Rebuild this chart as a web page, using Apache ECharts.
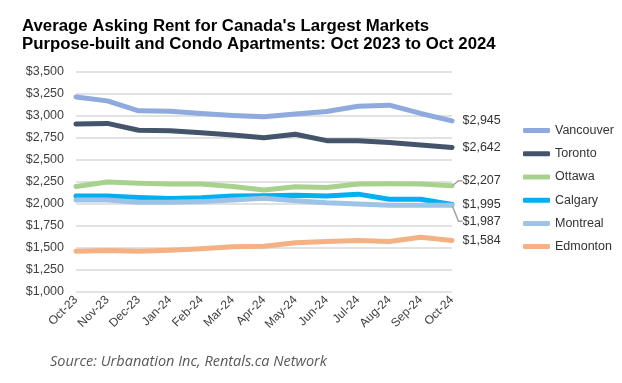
<!DOCTYPE html>
<html>
<head>
<meta charset="utf-8">
<script src="https://cdn.jsdelivr.net/npm/echarts@6/dist/echarts.min.js"></script>
<style>
  html, body { margin: 0; padding: 0; background: #ffffff; }
  #chart { width: 622px; height: 383px; }
</style>
</head>
<body>
<div id="chart"></div>
<script>
const categories = ['Oct-23','Nov-23','Dec-23','Jan-24','Feb-24','Mar-24','Apr-24','May-24','Jun-24','Jul-24','Aug-24','Sep-24','Oct-24'];
const vancouver = [3215, 3172, 3059, 3055, 3029, 3007, 2991, 3022, 3052, 3110, 3123, 3029, 2945];
const toronto   = [2908, 2916, 2838, 2833, 2810, 2784, 2752, 2792, 2720, 2720, 2700, 2671, 2642];
const ottawa    = [2199, 2250, 2236, 2226, 2226, 2199, 2160, 2195, 2188, 2228, 2230, 2226, 2207];
const calgary   = [2092, 2092, 2075, 2063, 2072, 2090, 2095, 2100, 2090, 2112, 2055, 2055, 1995];
const montreal  = [2045, 2045, 2020, 2020, 2027, 2045, 2065, 2038, 2015, 2000, 1987, 1987, 1987];
const edmonton  = [1464, 1472, 1464, 1475, 1491, 1513, 1520, 1559, 1573, 1585, 1573, 1622, 1584];
const seriesNames = ['Vancouver','Toronto','Ottawa','Calgary','Montreal','Edmonton'];
const seriesValues = [vancouver, toronto, ottawa, calgary, montreal, edmonton];
const yMin = 1000, yMax = 3500, yStep = 250;

const colors = ['#8FAADC', '#44546A', '#A9D18E', '#00B0F0', '#9DC3E6', '#F4B183'];
const labelShift = [0, 0, -5, 0, 16, 0];
const FONT = '"Liberation Sans", Arial, sans-serif';
const fmt = v => '$' + v.toLocaleString('en-US');

const chart = echarts.init(document.getElementById('chart'), null, { renderer: 'canvas' });

const series = seriesNames.map((name, si) => {
  const vals = seriesValues[si];
  return {
    name: name,
    type: 'line',
    z: 2 + si,
    showSymbol: true,
    symbol: 'circle',
    symbolSize: 1,
    itemStyle: { color: colors[si] },
    lineStyle: { color: colors[si], width: 5, cap: 'round', join: 'round' },
    emphasis: { disabled: true },
    data: vals.map((v, i) => i === vals.length - 1 ? {
      value: v,
      label: {
        show: true,
        position: 'right',
        distance: 10,
        formatter: p => fmt(p.value),
        fontFamily: FONT,
        fontSize: 12.5,
        color: '#333333'
      },
      labelLine: { show: labelShift[si] !== 0, lineStyle: { color: '#A6A6A6', width: 1.5 } }
    } : v),
    labelLayout: labelShift[si] !== 0 ? { dy: labelShift[si] } : null,
    labelLine: { show: labelShift[si] !== 0, length2: 4, lineStyle: { color: '#A6A6A6', width: 1.5 } }
  };
});

chart.setOption({
  animation: false,
  backgroundColor: '#ffffff',
  color: colors,
  title: [{
    text: "Average Asking Rent for Canada's Largest Markets\nPurpose-built and Condo Apartments: Oct 2023 to Oct 2024",
    left: 22,
    top: 17,
    padding: 0,
    textStyle: { fontFamily: FONT, fontWeight: 'bold', fontSize: 16.8, lineHeight: 18.5, color: '#000000' }
  }, {
    text: 'Source: Urbanation Inc, Rentals.ca Network',
    left: 50,
    top: 354.5,
    padding: 0,
    textStyle: { fontFamily: '"Open Sans", Lato, sans-serif', fontStyle: 'italic', fontWeight: 'normal', fontSize: 14.5, color: '#595959' }
  }],
  legend: {
    orient: 'vertical',
    left: 523,
    top: 119,
    padding: 0,
    itemWidth: 27,
    itemHeight: 5,
    itemGap: 0,
    icon: 'roundRect',
    selectedMode: false,
    data: seriesNames,
    textStyle: { fontFamily: FONT, fontSize: 12.5, color: '#333333', lineHeight: 23.2 }
  },
  grid: { left: 76, right: 170, top: 72, bottom: 91, containLabel: false },
  xAxis: {
    type: 'category',
    boundaryGap: false,
    data: categories,
    axisLine: { show: false },
    axisTick: { show: false },
    axisLabel: { rotate: 45, margin: 6, interval: 0, fontFamily: FONT, fontSize: 12, color: '#404040' }
  },
  yAxis: {
    type: 'value',
    min: yMin,
    max: yMax,
    interval: yStep,
    axisLine: { show: false },
    axisTick: { show: false },
    splitLine: { lineStyle: { color: '#D9D9D9', width: 1.5 } },
    axisLabel: { margin: 12, formatter: v => fmt(v), fontFamily: FONT, fontSize: 12.5, color: '#404040' }
  },
  series: series
});
</script>
</body>
</html>
